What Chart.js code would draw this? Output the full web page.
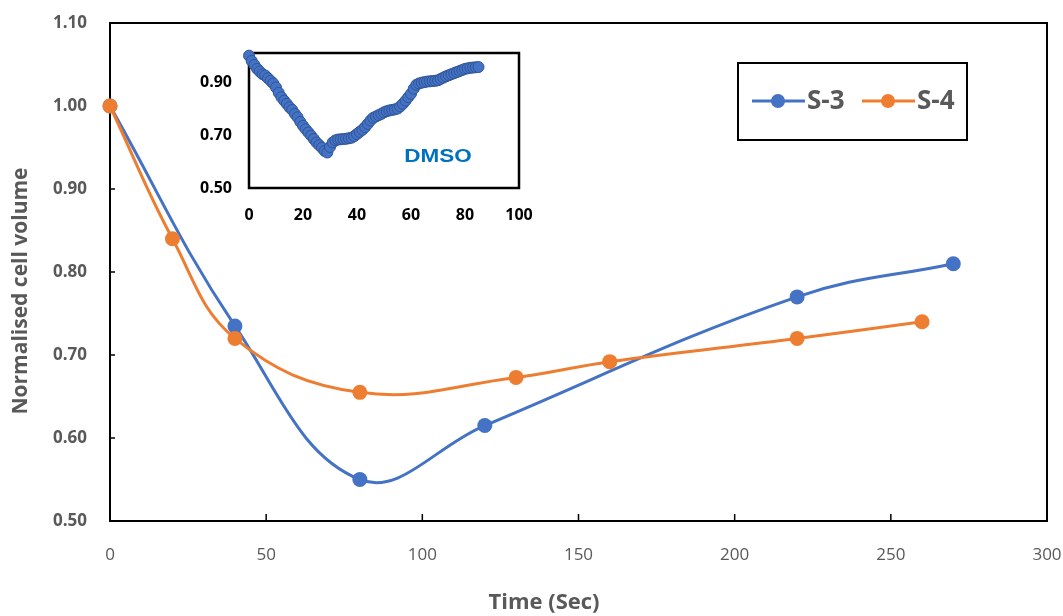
<!DOCTYPE html>
<html>
<head>
<meta charset="utf-8">
<script src="https://cdn.jsdelivr.net/npm/chart.js@4"></script>
<style>
  html, body { margin: 0; padding: 0; background: #fff; }
  #wrap { position: relative; width: 1063px; height: 616px; }
  #mainChart { position: absolute; left: 0; top: 0; }
  #insetChart { position: absolute; left: 190px; top: 40px; }
</style>
</head>
<body>
<div id="wrap">
  <canvas id="mainChart" width="1063" height="616"></canvas>
  <canvas id="insetChart" width="345" height="190"></canvas>
</div>
<script>
// Main chart: normalised cell volume over time
const s3Time = [0, 40, 80, 120, 220, 270];
const s3Volume = [1.00, 0.735, 0.55, 0.615, 0.77, 0.81];
const s4Time = [0, 20, 40, 80, 130, 160, 220, 260];
const s4Volume = [1.00, 0.84, 0.72, 0.655, 0.673, 0.692, 0.72, 0.74];
const xTicks = [0, 50, 100, 150, 200, 250, 300];
const yTicks = [0.5, 0.6, 0.7, 0.8, 0.9, 1.0, 1.1];

// Inset: DMSO control, one reading per second
const dmsoVolume = [
  1.00, 0.98, 0.965, 0.95, 0.94, 0.93, 0.925, 0.915, 0.905, 0.895,
  0.88, 0.86, 0.843, 0.83, 0.818, 0.805, 0.795, 0.78, 0.767, 0.75,
  0.735, 0.722, 0.71, 0.698, 0.685, 0.672, 0.662, 0.652, 0.64, 0.634,
  0.655, 0.672, 0.68, 0.683, 0.684, 0.685, 0.686, 0.688, 0.69, 0.696,
  0.704, 0.712, 0.72, 0.73, 0.742, 0.755, 0.765, 0.77, 0.775, 0.78,
  0.786, 0.79, 0.793, 0.795, 0.797, 0.80, 0.808, 0.818, 0.83, 0.843,
  0.856, 0.875, 0.89, 0.895, 0.898, 0.90, 0.902, 0.903, 0.904, 0.905,
  0.907, 0.912, 0.917, 0.922, 0.926, 0.93, 0.934, 0.938, 0.942, 0.946,
  0.95, 0.952, 0.954, 0.955, 0.956, 0.957
];
const dmsoTime = dmsoVolume.map((v, i) => i);
const insetXTicks = [0, 20, 40, 60, 80, 100];
const insetYTicks = [0.5, 0.7, 0.9];

const BLUE = '#4472C4';
const ORANGE = '#ED7D31';
const GREY = '#595959';
const FONT = '"Open Sans", sans-serif';

const toPoints = (xs, ys) => xs.map((x, i) => ({ x: x, y: ys[i] }));

// fixed axis sizes; labels may spill past the plot edges
const fixX = h => s => { s.height = h; s.paddingLeft = 0; s.paddingRight = 0; };
const fixY = w => s => { s.width = w; s.paddingTop = 0; s.paddingBottom = 0; };

// frame round the plot area plus short inward tick marks
const framePlugin = {
    id: 'frame',
    beforeDatasetsDraw(chart, args, opts) {
        const { ctx, chartArea: a } = chart;
        ctx.save();
        ctx.strokeStyle = '#000';
        ctx.lineWidth = opts.width || 2;
        ctx.strokeRect(a.left, a.top, a.right - a.left, a.bottom - a.top);
        if (opts.ticks) {
            ctx.lineWidth = 1.5;
            ctx.beginPath();
            chart.scales.x.ticks.forEach(t => {
                const px = chart.scales.x.getPixelForValue(t.value);
                if (px > a.left + 2 && px < a.right - 2) {
                    ctx.moveTo(px, a.bottom);
                    ctx.lineTo(px, a.bottom - 7);
                }
            });
            chart.scales.y.ticks.forEach(t => {
                const py = chart.scales.y.getPixelForValue(t.value);
                if (py > a.top + 2 && py < a.bottom - 2) {
                    ctx.moveTo(a.left, py);
                    ctx.lineTo(a.left + 5, py);
                }
            });
            ctx.stroke();
        }
        ctx.restore();
    }
};

// axis titles and the boxed legend
const decorPlugin = {
    id: 'decor',
    afterDraw(chart) {
        const ctx = chart.ctx;
        ctx.save();
        ctx.fillStyle = GREY;
        ctx.textAlign = 'center';
        ctx.textBaseline = 'middle';
        ctx.font = 'bold 22px ' + FONT;
        ctx.fillText('Time (Sec)', 544, 603);

        ctx.translate(21, 291);
        ctx.rotate(-Math.PI / 2);
        ctx.font = 'bold 21px ' + FONT;
        ctx.fillText('Normalised cell volume', 0, 0);
        ctx.restore();

        // legend
        ctx.save();
        ctx.strokeStyle = '#000';
        ctx.lineWidth = 2;
        ctx.strokeRect(738, 63, 229, 77);
        const cy = 101;
        const items = [
            { label: chart.data.datasets[0].label, color: chart.data.datasets[0].borderColor, x: 752 },
            { label: chart.data.datasets[1].label, color: chart.data.datasets[1].borderColor, x: 862 }
        ];
        items.forEach(it => {
            ctx.strokeStyle = it.color;
            ctx.lineWidth = 3;
            ctx.beginPath();
            ctx.moveTo(it.x, cy);
            ctx.lineTo(it.x + 53, cy);
            ctx.stroke();
            ctx.fillStyle = it.color;
            ctx.beginPath();
            ctx.arc(it.x + 26, cy, 7, 0, Math.PI * 2);
            ctx.fill();
            ctx.fillStyle = GREY;
            ctx.font = 'bold 26px ' + FONT;
            ctx.textAlign = 'left';
            ctx.textBaseline = 'middle';
            ctx.fillText(it.label, it.x + 55, cy + 1);
        });
        ctx.restore();
    }
};

const dmsoLabelPlugin = {
    id: 'dmsoLabel',
    afterDraw(chart) {
        const ctx = chart.ctx;
        ctx.save();
        ctx.fillStyle = '#0070C0';
        ctx.font = 'bold 18px "Liberation Sans", Arial, sans-serif';
        ctx.textAlign = 'center';
        ctx.textBaseline = 'middle';
        ctx.translate(438 - 190, 157 - 40);
        ctx.scale(1.25, 1);
        ctx.fillText('DMSO', 0, 0);
        ctx.restore();
    }
};

const whiteBg = {
    id: 'whiteBg',
    beforeDraw(chart) {
        const ctx = chart.ctx;
        ctx.save();
        ctx.fillStyle = '#fff';
        ctx.fillRect(0, 0, chart.width, chart.height);
        ctx.restore();
    }
};

new Chart(document.getElementById('mainChart'), {
    type: 'scatter',
    data: {
        datasets: [
            {
                label: 'S-3',
                data: toPoints(s3Time, s3Volume),
                showLine: true,
                borderColor: BLUE,
                backgroundColor: BLUE,
                borderWidth: 3,
                pointRadius: 7.5,
                pointBorderWidth: 0,
                tension: 0.4,
                clip: false,
                order: 2
            },
            {
                label: 'S-4',
                data: toPoints(s4Time, s4Volume),
                showLine: true,
                borderColor: ORANGE,
                backgroundColor: ORANGE,
                borderWidth: 3,
                pointRadius: 7.5,
                pointBorderWidth: 0,
                tension: 0.4,
                clip: false,
                order: 1
            }
        ]
    },
    options: {
        responsive: false,
        animation: false,
        layout: { padding: { left: 0, right: 16, top: 23, bottom: 0 } },
        plugins: {
            legend: { display: false },
            tooltip: { enabled: false },
            frame: { width: 2, ticks: true }
        },
        scales: {
            x: {
                type: 'linear',
                min: 0,
                max: 300,
                afterBuildTicks: s => { s.ticks = xTicks.map(v => ({ value: v })); },
                afterFit: fixX(95),
                grid: { display: false, drawTicks: false },
                border: { display: false },
                ticks: {
                    padding: 24,
                    color: GREY,
                    font: { family: FONT, size: 17 }
                }
            },
            y: {
                min: 0.5,
                max: 1.1,
                afterBuildTicks: s => { s.ticks = yTicks.map(v => ({ value: v })); },
                afterFit: fixY(110),
                grid: { display: false, drawTicks: false },
                border: { display: false },
                ticks: {
                    padding: 23,
                    color: GREY,
                    font: { family: FONT, size: 17, weight: 'bold' },
                    callback: v => v.toFixed(2)
                }
            }
        }
    },
    plugins: [whiteBg, framePlugin, decorPlugin]
});

new Chart(document.getElementById('insetChart'), {
    type: 'scatter',
    data: {
        datasets: [{
            label: 'DMSO',
            data: toPoints(dmsoTime, dmsoVolume),
            showLine: false,
            backgroundColor: BLUE,
            borderColor: '#2F5597',
            borderWidth: 1,
            pointRadius: 5.5,
            clip: false
        }]
    },
    options: {
        responsive: false,
        animation: false,
        layout: { padding: { left: 0, right: 16, top: 13, bottom: 0 } },
        plugins: {
            legend: { display: false },
            tooltip: { enabled: false },
            frame: { width: 2.5, ticks: false }
        },
        scales: {
            x: {
                type: 'linear',
                min: 0,
                max: 100,
                afterBuildTicks: s => { s.ticks = insetXTicks.map(v => ({ value: v })); },
                afterFit: fixX(42),
                grid: { display: false, drawTicks: false },
                border: { display: false },
                ticks: {
                    padding: 18,
                    color: '#000',
                    font: { family: FONT, size: 16, weight: 'bold' }
                }
            },
            y: {
                min: 0.5,
                max: 1.01,
                afterBuildTicks: s => { s.ticks = insetYTicks.map(v => ({ value: v })); },
                afterFit: fixY(59),
                grid: { display: false, drawTicks: false },
                border: { display: false },
                ticks: {
                    padding: 17,
                    color: '#000',
                    font: { family: FONT, size: 16, weight: 'bold' },
                    callback: v => v.toFixed(2)
                }
            }
        }
    },
    plugins: [framePlugin, dmsoLabelPlugin]
});
</script>
</body>
</html>
